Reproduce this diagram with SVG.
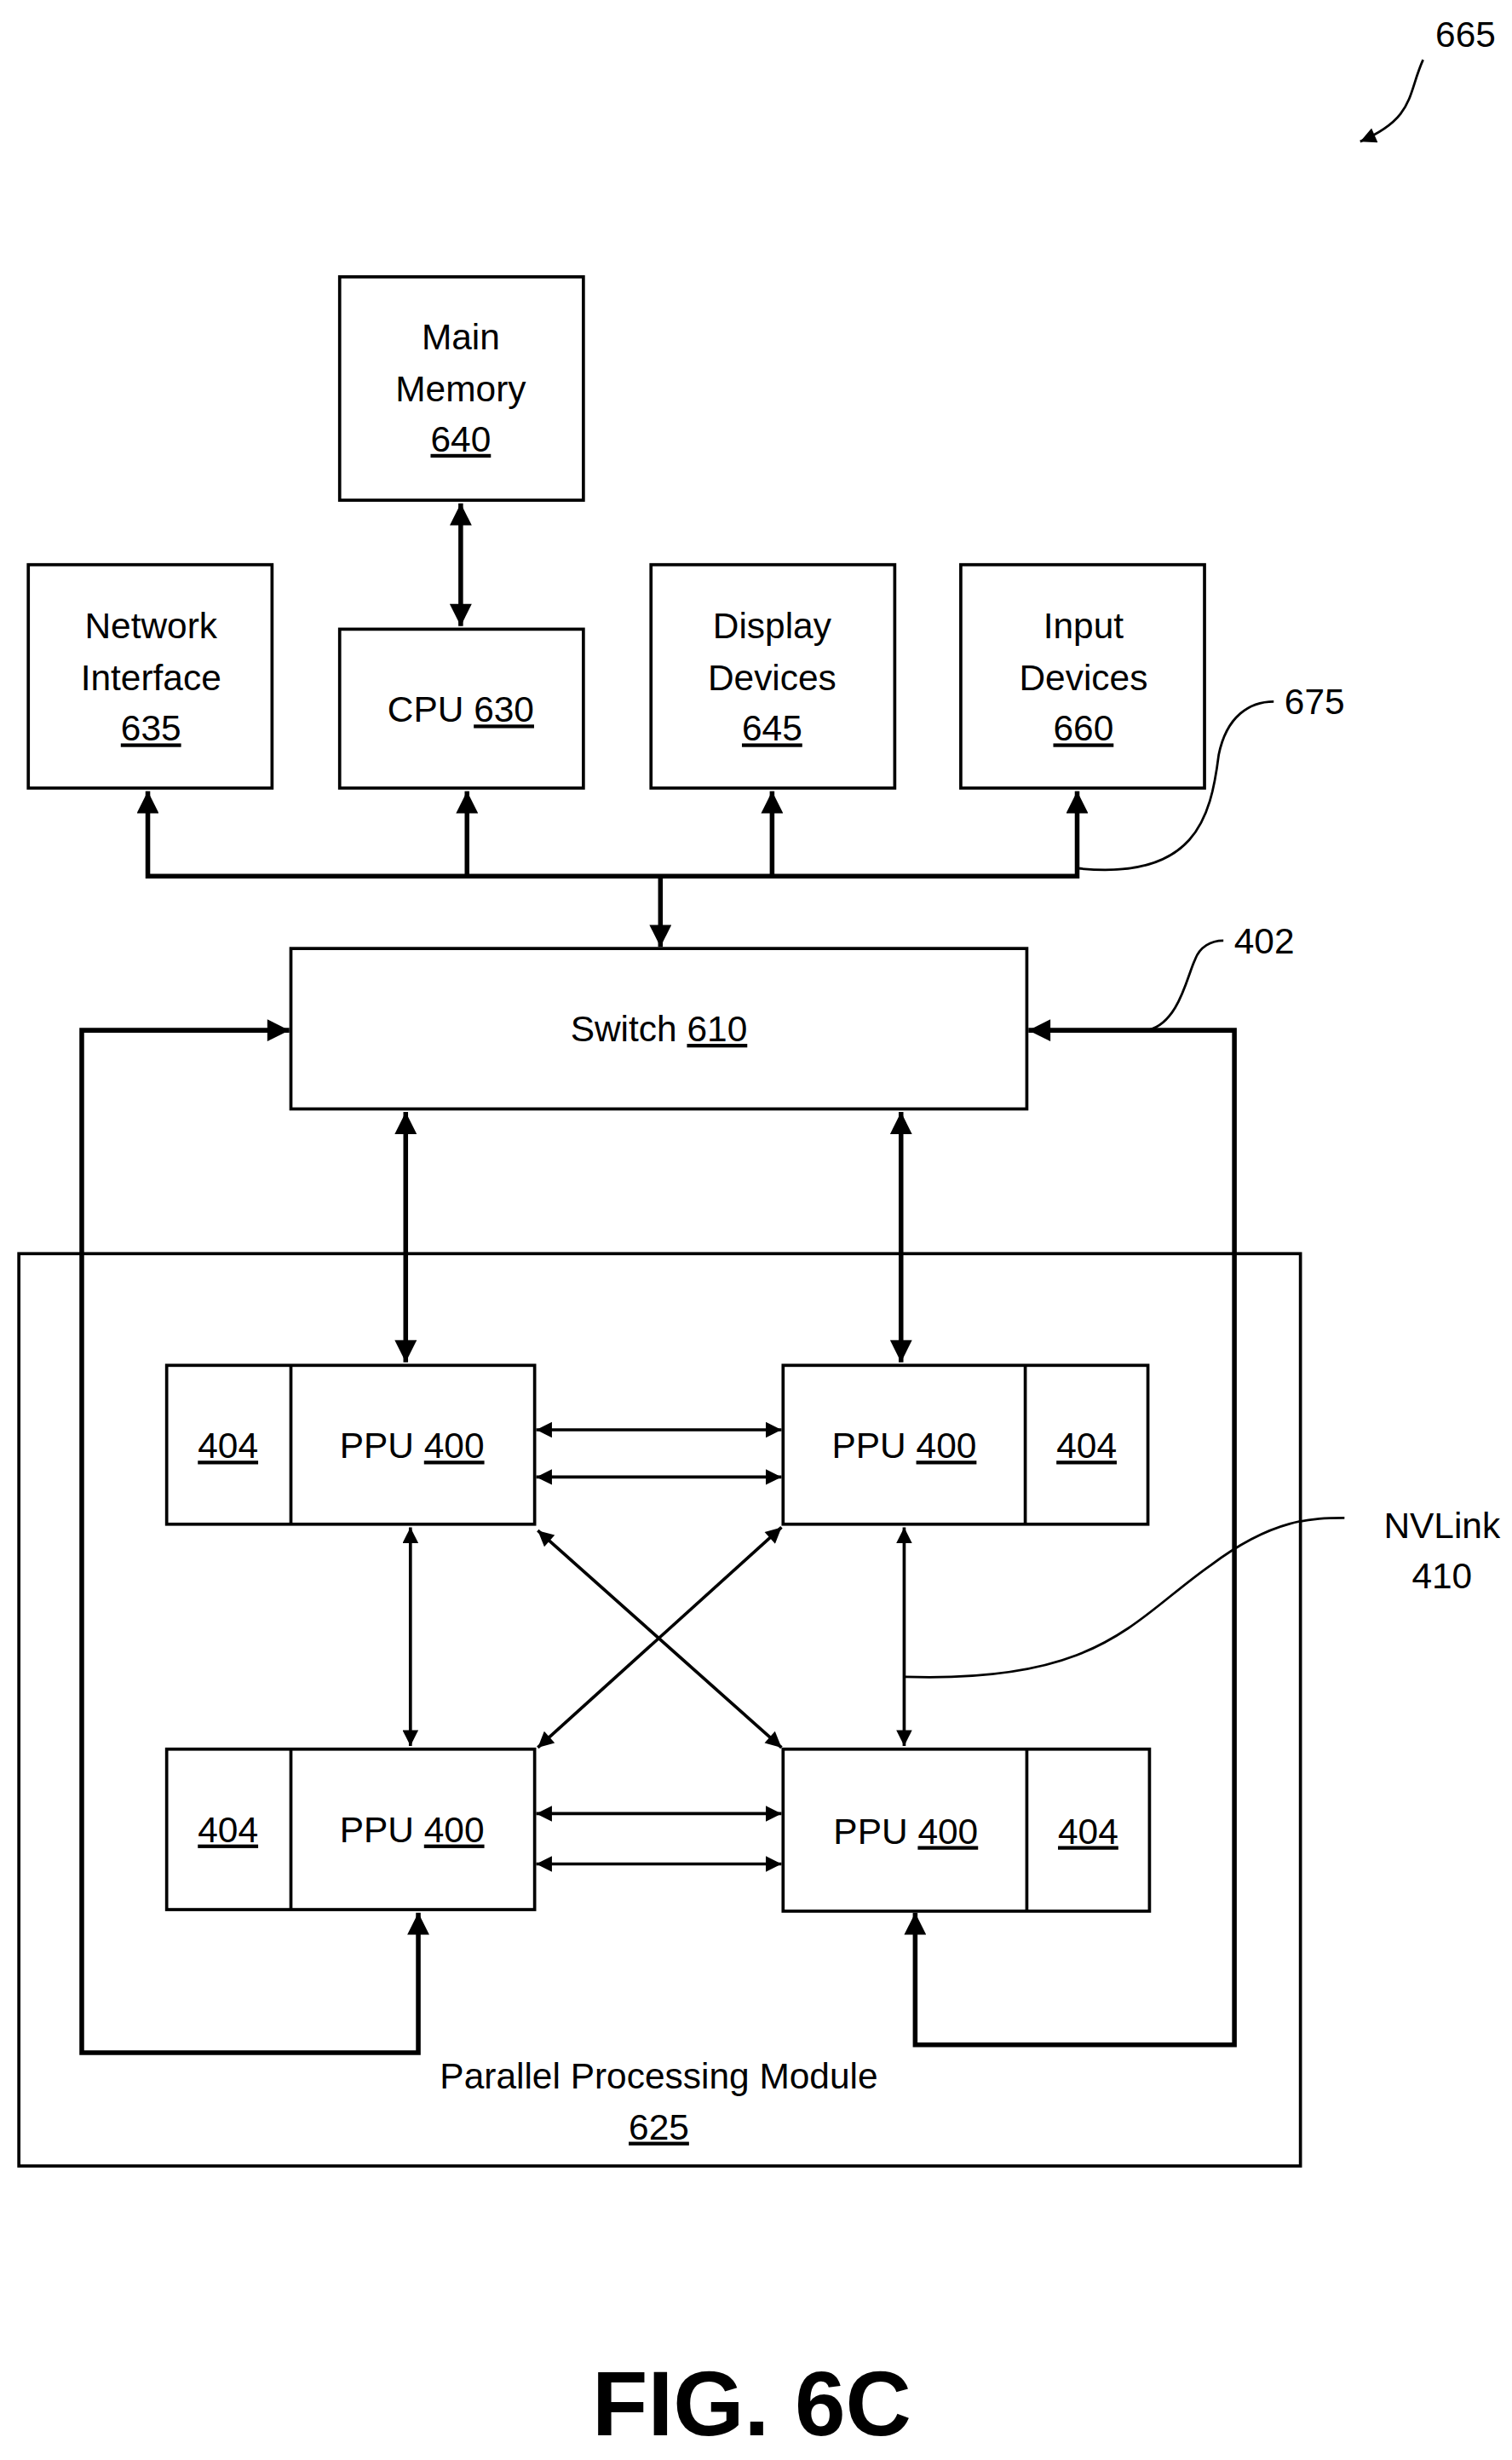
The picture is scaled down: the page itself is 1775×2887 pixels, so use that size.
<svg xmlns="http://www.w3.org/2000/svg" width="1775" height="2887" viewBox="0 0 1775 2887">
<style>
.b{fill:#fff;stroke:#000;stroke-width:2}
.t{font-family:"Liberation Sans Narrow","Liberation Sans",Arial,sans-serif;font-size:23px;text-anchor:middle;fill:#000}
.u{text-decoration:underline}
.k{fill:none;stroke:#000;stroke-width:3}
.n{fill:none;stroke:#000;stroke-width:2}
.l{fill:none;stroke:#000;stroke-width:1.5}
</style>
<defs>
<marker id="a" viewBox="0 0 10 10" refX="10" refY="5" markerWidth="16" markerHeight="14" markerUnits="userSpaceOnUse" orient="auto-start-reverse"><path d="M0,0L10,5L0,10z"/></marker>
<marker id="s" viewBox="0 0 10 10" refX="10" refY="5" markerWidth="12" markerHeight="10" markerUnits="userSpaceOnUse" orient="auto-start-reverse"><path d="M0,0L10,5L0,10z"/></marker>
</defs>
<rect width="1775" height="2887" fill="#fff"/>
<g transform="scale(1.846)">
<g id="connectors">
<line class="k" x1="293" y1="320" x2="293" y2="398" marker-start="url(#a)" marker-end="url(#a)"/>
<polyline class="k" points="94,503 94,557 685,557 685,503" marker-start="url(#a)" marker-end="url(#a)"/>
<line class="k" x1="297" y1="557" x2="297" y2="503" marker-end="url(#a)"/>
<line class="k" x1="491" y1="557" x2="491" y2="503" marker-end="url(#a)"/>
<line class="k" x1="420" y1="557" x2="420" y2="602" marker-end="url(#a)"/>
<polyline class="k" points="266,1216 266,1305 52,1305 52,655 184,655" marker-start="url(#a)" marker-end="url(#a)"/>
<polyline class="k" points="582,1216 582,1300 785,1300 785,655 654,655" marker-start="url(#a)" marker-end="url(#a)"/>
<line class="k" x1="258" y1="707" x2="258" y2="866" marker-start="url(#a)" marker-end="url(#a)"/>
<line class="k" x1="573" y1="707" x2="573" y2="866" marker-start="url(#a)" marker-end="url(#a)"/>
<line class="n" x1="341" y1="909" x2="497" y2="909" marker-start="url(#s)" marker-end="url(#s)"/>
<line class="n" x1="341" y1="939" x2="497" y2="939" marker-start="url(#s)" marker-end="url(#s)"/>
<line class="n" x1="341" y1="1153" x2="497" y2="1153" marker-start="url(#s)" marker-end="url(#s)"/>
<line class="n" x1="341" y1="1185" x2="497" y2="1185" marker-start="url(#s)" marker-end="url(#s)"/>
<line class="n" x1="261" y1="971" x2="261" y2="1110" marker-start="url(#s)" marker-end="url(#s)"/>
<line class="n" x1="575" y1="971" x2="575" y2="1110" marker-start="url(#s)" marker-end="url(#s)"/>
<line class="n" x1="342" y1="973" x2="497" y2="1111" marker-start="url(#s)" marker-end="url(#s)"/>
<line class="n" x1="497" y1="971" x2="342" y2="1111" marker-start="url(#s)" marker-end="url(#s)"/>
<path class="l" d="M575,1066 C700,1070 720,1030 770,995 C810,965 835,965 855,965"/>
<path class="l" d="M685,552 C760,560 770,520 775,480 C780,455 795,446 810,446"/>
<path class="l" d="M730,655 C750,650 755,620 760,610 C763,602 770,598 778,598"/>
<path class="l" d="M905,38 C895,60 900,75 865,90" marker-end="url(#s)"/>
</g>
<g id="n665"><text class="t" x="932" y="30">665</text></g>
<g id="n675"><text class="t" x="836" y="454">675</text></g>
<g id="n402"><text class="t" x="804" y="606">402</text></g>
<g id="nvlink"><text class="t" x="917" y="978">NVLink</text><text class="t" x="917" y="1010">410</text></g>
<g id="mem"><rect class="b" x="216" y="176" width="155" height="142"/><text class="t" x="293" y="222">Main</text><text class="t" x="293" y="255">Memory</text><text class="t u" x="293" y="287">640</text></g>
<g id="net"><rect class="b" x="18" y="359" width="155" height="142"/><text class="t" x="96" y="406">Network</text><text class="t" x="96" y="439">Interface</text><text class="t u" x="96" y="471">635</text></g>
<g id="cpu"><rect class="b" x="216" y="400" width="155" height="101"/><text class="t" x="293" y="459">CPU <tspan class="u">630</tspan></text></g>
<g id="disp"><rect class="b" x="414" y="359" width="155" height="142"/><text class="t" x="491" y="406">Display</text><text class="t" x="491" y="439">Devices</text><text class="t u" x="491" y="471">645</text></g>
<g id="inp"><rect class="b" x="611" y="359" width="155" height="142"/><text class="t" x="689" y="406">Input</text><text class="t" x="689" y="439">Devices</text><text class="t u" x="689" y="471">660</text></g>
<g id="switch"><rect class="b" x="185" y="603" width="468" height="102"/><text class="t" x="419" y="662">Switch <tspan class="u">610</tspan></text></g>
<g id="module"><rect x="12" y="797" width="815" height="580" fill="none" stroke="#000" stroke-width="2"/><text class="t" x="419" y="1328">Parallel Processing Module</text><text class="t u" x="419" y="1360">625</text></g>
<g id="ppu1"><rect class="b" x="106" y="868" width="234" height="101"/><line class="n" x1="185" y1="868" x2="185" y2="969"/><text class="t u" x="145" y="927">404</text><text class="t" x="262" y="927">PPU <tspan class="u">400</tspan></text></g>
<g id="ppu2"><rect class="b" x="498" y="868" width="232" height="101"/><line class="n" x1="652" y1="868" x2="652" y2="969"/><text class="t" x="575" y="927">PPU <tspan class="u">400</tspan></text><text class="t u" x="691" y="927">404</text></g>
<g id="ppu3"><rect class="b" x="106" y="1112" width="234" height="102"/><line class="n" x1="185" y1="1112" x2="185" y2="1214"/><text class="t u" x="145" y="1171">404</text><text class="t" x="262" y="1171">PPU <tspan class="u">400</tspan></text></g>
<g id="ppu4"><rect class="b" x="498" y="1112" width="233" height="103"/><line class="n" x1="653" y1="1112" x2="653" y2="1215"/><text class="t" x="576" y="1172">PPU <tspan class="u">400</tspan></text><text class="t u" x="692" y="1172">404</text></g>
<g id="fig"><text x="478" y="1548" text-anchor="middle" font-family="Liberation Sans,Arial,sans-serif" font-weight="bold" font-size="58">FIG. 6C</text></g>
</g>
</svg>
